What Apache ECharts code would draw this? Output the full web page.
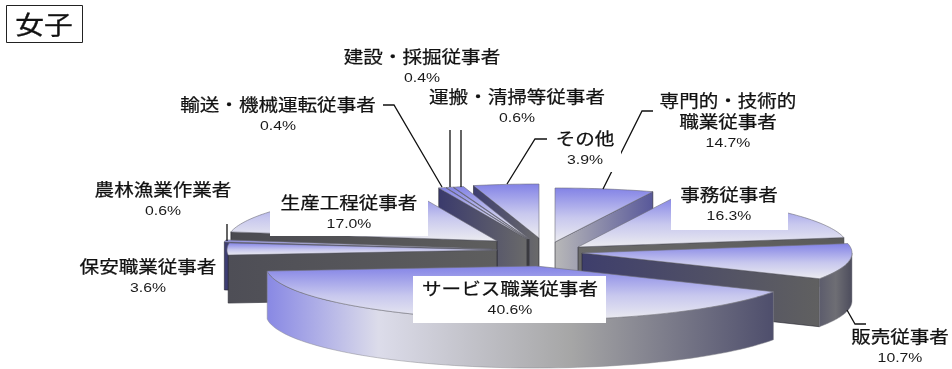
<!DOCTYPE html>
<html><head><meta charset="utf-8">
<style>html,body{margin:0;padding:0;background:#fff}#c{width:952px;height:369px}</style>
<script src="https://cdn.jsdelivr.net/npm/echarts@6/dist/echarts.min.js"></script>
</head><body><div id="c"></div>
<script>
// ---- data ----
const categories = ['専門的・技術的\n職業従事者','事務従事者','販売従事者','サービス職業従事者','保安職業従事者','農林漁業作業者','生産工程従事者','建設・採掘従事者','輸送・機械運転従事者','運搬・清掃等従事者','その他'];
// slice sizes as drawn (the first wedge is drawn far narrower than its printed label)
const sliceValues = [5.9,16.3,10.7,40.6,3.6,0.6,17.0,0.4,0.4,0.6,3.9];
const percentLabels = ['14.7%','16.3%','10.7%','40.6%','3.6%','0.6%','17.0%','0.4%','0.4%','0.6%','3.9%'];
const titleText = '女子';

// ---- layout / style ----
const cx = 540, cy = 252, rx = 270, ry = 54, depth = 48;
const explode = [[15,-10],[38,-5],[42,1],[-4,14],[-43,-2],[-48,-3],[-43,-11],[-13,-13],[-12,-13],[-11,-13],[-1,-14]];
const labelPos = [[728,101],[729,195],[900,337],[510,289],[148,267],[163,190],[349,203],[422,57],[278,105],[517,97],[585,139]];
const labelBox = {1:[671,187,117,43],3:[413,276,193,47],6:[270,184,158,52],10:[549,128,72,44]};
const faceStops = [
 ['#b8b8b8','#58589a'],['#6a6a6a','#5a5a5a'],['#3e3e6c','#606060'],['#555','#555'],
 ['#4e4e56','#5e5e5e'],['#3d3d72','#4a4a5e'],['#4a4a50','#5e5e5e'],
 ['#3a3a6c','#6a6a6a'],['#3a3a6c','#555'],['#3a3a6c','#555'],['#3e3e70','#6a6a6a']];
const wallStops = {
 2:[[0,'#5c5c6c'],[0.5,'#6e6e74'],[1,'#4c4c5c']],
 3:[[0,'#8888e4'],[0.22,'#dcdcea'],[0.6,'#a6a6a6'],[1,'#4e4e6c']]
};
const leaders = [
 [[450,130],[450,187]],[[461,130],[461,187]],
 [[383,105],[394,105],[442,187]],
 [[547,139],[535,139],[507,184]],
 [[653,111],[642,111],[603,189]],
 [[847,310],[855,324],[866,324]],
 [[227,224],[227,241]]
];

const total = sliceValues.reduce((a,b)=>a+b,0);
const starts = []; sliceValues.reduce((acc,v,i)=>{starts[i]=acc;return acc+v;},0);
const toAngle = v => v/total*2*Math.PI;
const mids = sliceValues.map((v,i)=>toAngle(starts[i]+v/2));
const order = sliceValues.map((_,i)=>i).sort((a,b)=>Math.cos(mids[b])-Math.cos(mids[a]));
const rim = (a,t) => [a[0]+rx*Math.sin(t), a[1]-ry*Math.cos(t)];
const down = p => [p[0],p[1]+depth];
const grad = (x0,y0,x1,y1,stops)=>new echarts.graphic.LinearGradient(x0,y0,x1,y1,stops.map(s=>({offset:s[0],color:s[1]})));

function renderSlice(params, api){
  const i = params.dataIndex, v = api.value(0);
  const t0 = toAngle(starts[i]), t1 = toAngle(starts[i]+v), tm = (t0+t1)/2;
  const a = [cx+explode[i][0], cy+explode[i][1]];
  const rank = order.indexOf(i)*10;
  const kids = [];
  const M = rim(a,tm);
  const face = (t)=>{
    const P = rim(a,t), ex=P[0]-a[0], ey=P[1]-a[1];
    if(Math.abs(ex)<1) return;
    const ly = a[1]+ey/ex*(M[0]-a[0]);
    if(ly <= M[1]+1e-6 && Math.abs(t1-t0)>0.1) return;
    if(Math.abs(t1-t0)<=0.1 && t!==t0) return;
    const st = faceStops[i];
    kids.push({type:'polygon',z2:rank,shape:{points:[a,P,down(P),down(a)]},
      style:{fill:grad(0,0,1,0,[[0,st[0]],[1,st[1]]]),stroke:'#23232e',lineWidth:0.6}});
  };
  face(t0); face(t1);
  // outer wall for the part of the rim facing the viewer
  const w0 = Math.max(t0,Math.PI/2), w1 = Math.min(t1,3*Math.PI/2);
  if(w1>w0 && wallStops[i]){
    const up=[], lo=[];
    for(let k=0;k<=72;k++){const t=w0+(w1-w0)*k/72,p=rim(a,t);up.push(p);lo.unshift(down(p));}
    kids.push({type:'polygon',z2:rank+1,shape:{points:up.concat(lo)},
      style:{fill:grad(0,0,1,0,wallStops[i]),stroke:'#8a8a90',lineWidth:0.5}});
  }
  // top surface
  const pts=[a]; const n=Math.max(4,Math.ceil((t1-t0)*40));
  for(let k=0;k<=n;k++) pts.push(rim(a,t0+(t1-t0)*k/n));
  kids.push({type:'polygon',z2:rank+2,shape:{points:pts},
    style:{fill:grad(0,0,0,1,[[0,'#8282e6'],[0.55,'#c8c8ee'],[1,'#ececf0']]),stroke:'#6f6f78',lineWidth:0.6}});
  return {type:'group',children:kids};
}

// ---- labels ----
const nameFont = '"Noto Sans CJK JP","Noto Sans",sans-serif';
const graphics = [];
leaders.forEach(pts=>graphics.push({type:'polyline',z:10,shape:{points:pts},style:{fill:null,stroke:'#111',lineWidth:1.3}}));
Object.keys(labelBox).forEach(k=>{const b=labelBox[k];
  graphics.push({type:'rect',z:11,shape:{x:b[0],y:b[1],width:b[2],height:b[3]},style:{fill:'#fff'}});});
categories.forEach((name,i)=>{
  const lines = name.split('\n'), p = labelPos[i], step = 21;
  lines.forEach((ln,j)=>graphics.push({type:'text',z:12,x:p[0],y:p[1]+j*step,scaleX:1.15,
    style:{text:ln,font:'400 17px '+nameFont,fill:'#111',stroke:'#111',lineWidth:0.25,align:'center',verticalAlign:'middle'}}));
  graphics.push({type:'text',z:12,x:p[0],y:p[1]+lines.length*step,scaleX:1.17,
    style:{text:percentLabels[i],font:'400 13.5px "Liberation Sans",sans-serif',fill:'#1a1a1a',align:'center',verticalAlign:'middle'}});
});
graphics.push({type:'rect',z:11,shape:{x:6.5,y:5.5,width:76,height:37},style:{fill:'#fff',stroke:'#222',lineWidth:1}});
graphics.push({type:'text',z:12,x:44,y:24,scaleX:1.15,style:{text:titleText,font:'400 25px '+nameFont,fill:'#111',stroke:'#111',lineWidth:0.3,align:'center',verticalAlign:'middle'}});

const chart = echarts.init(document.getElementById('c'),null,{renderer:'canvas',width:952,height:369});
chart.setOption({
  animation:false,
  backgroundColor:'#fff',
  series:[{type:'custom',coordinateSystem:'none',silent:true,clip:false,renderItem:renderSlice,
    data:sliceValues.map(v=>[v])}],
  graphic:{elements:graphics}
});
</script></body></html>
